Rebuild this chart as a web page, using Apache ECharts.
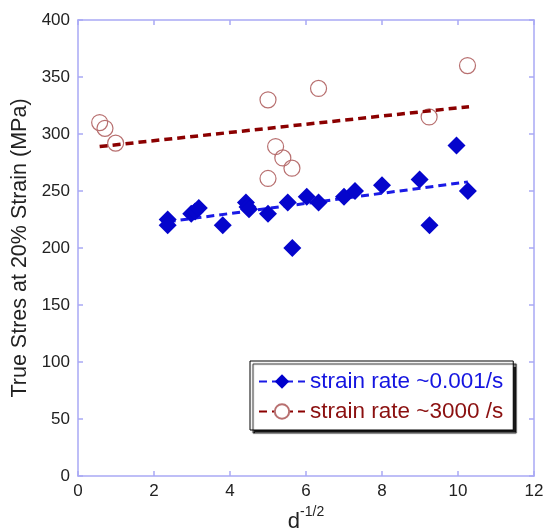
<!DOCTYPE html>
<html><head><meta charset="utf-8">
<script src="https://cdn.jsdelivr.net/npm/echarts@6/dist/echarts.min.js"></script>
<style>html,body{margin:0;padding:0;background:#fff}#c{width:545px;height:528px}</style>
</head><body><div id="c"></div>
<script>
// Low strain rate (~0.001/s) points
const slowX = [2.36, 2.36, 2.98, 3.08, 3.18, 3.81, 4.42, 4.46, 4.5, 5.0, 5.52, 5.64, 6.02, 6.33, 7.0, 7.29, 8.0, 8.99, 9.25, 9.96, 10.26];
const slowY = [225, 220, 230, 232, 235, 220, 240, 236, 234, 230, 240, 200, 245, 240, 245, 250, 255, 260, 220, 290, 250];
// High strain rate (~3000/s) points
const fastX = [0.57, 0.71, 0.99, 5.0, 6.33, 5.2, 5.39, 5.63, 5.0, 9.24, 10.25];
const fastY = [310, 305, 292, 330, 340, 289, 279, 270, 261, 315, 360];
// Fit lines (endpoints)
const slowFitX = [2.36, 10.26];
const slowFitY = [223, 258];
const fastFitX = [0.57, 10.29];
const fastFitY = [289, 324];
const xTicks = [0, 2, 4, 6, 8, 10, 12];
const yTicks = [0, 50, 100, 150, 200, 250, 300, 350, 400];
const names = ['strain rate ~0.001/s', 'strain rate ~3000 /s'];

const zip = (a, b) => a.map((v, i) => [v, b[i]]);
const FONT = 'Liberation Sans, Arial, sans-serif';
const frame = '#a9a9f5';

const chart = echarts.init(document.getElementById('c'), null, {renderer: 'canvas'});
const axisCommon = {
  axisLine: {show: true, onZero: false, lineStyle: {color: frame, width: 1.5}},
  axisTick: {show: true, inside: true, length: 5, lineStyle: {color: frame, width: 1.5}},
  splitLine: {show: false}
};
chart.setOption({
  animation: false,
  backgroundColor: '#fff',
  grid: {left: 78, right: 11, top: 20, bottom: 52, containLabel: false, outerBoundsMode: 'none'},
  xAxis: [
    Object.assign({type: 'value', min: xTicks[0], max: xTicks[xTicks.length - 1], interval: 2, position: 'bottom',
      axisLabel: {color: '#222', fontSize: 17, fontFamily: FONT, margin: 7},
      name: '{d|d}{s|-1/2}', nameLocation: 'middle', nameGap: 26,
      nameTextStyle: {rich: {d: {fontSize: 22, fontFamily: FONT, color: '#222', verticalAlign: 'bottom', lineHeight: 28},
                             s: {fontSize: 14, fontFamily: FONT, color: '#222', verticalAlign: 'top', lineHeight: 12}}}}, axisCommon),
    Object.assign({type: 'value', min: 0, max: 12, interval: 2, position: 'top', axisLabel: {show: false}}, axisCommon)
  ],
  yAxis: [
    Object.assign({type: 'value', min: yTicks[0], max: yTicks[yTicks.length - 1], interval: 50, position: 'left',
      axisLabel: {color: '#222', fontSize: 17, fontFamily: FONT, margin: 8},
      name: 'True Stres at 20% Strain (MPa)', nameLocation: 'middle', nameGap: 38,
      nameTextStyle: {fontSize: 21.5, fontFamily: FONT, color: '#222'}}, axisCommon),
    Object.assign({type: 'value', min: 0, max: 400, interval: 50, position: 'right', axisLabel: {show: false}}, axisCommon)
  ],
  legend: {
    orient: 'vertical', left: 250, top: 361, width: 263,
    padding: [9, 10, 7, 8], itemGap: 7, itemWidth: 46, itemHeight: 18,
    backgroundColor: '#fff', borderColor: '#000', borderWidth: 1,
    shadowColor: 'rgba(0,0,0,0.9)', shadowBlur: 1, shadowOffsetX: 3, shadowOffsetY: 3,
    textStyle: {fontSize: 22.5, fontFamily: FONT},
    data: [
      {name: names[0], textStyle: {color: '#1515e0'}},
      {name: names[1], textStyle: {color: '#8b1010'}}
    ]
  },
  series: [
    {name: names[0], type: 'line', data: zip(slowFitX, slowFitY), symbol: 'diamond', showSymbol: false,
     lineStyle: {color: '#1a1ae6', width: 3, type: [8, 5]}, itemStyle: {color: '#0000cc'}, z: 3},
    {name: names[1], type: 'line', data: zip(fastFitX, fastFitY), symbol: 'emptyCircle', showSymbol: false,
     lineStyle: {color: '#8b0000', width: 3.5, type: [8, 5]}, itemStyle: {color: '#b87070'}, z: 3},
    {name: 'slow pts', type: 'scatter', data: zip(slowX, slowY), symbol: 'diamond', symbolSize: 18,
     itemStyle: {color: '#0505cc', opacity: 1}, z: 4},
    {name: 'fast pts', type: 'scatter', data: zip(fastX, fastY), symbol: 'circle', symbolSize: 16,
     itemStyle: {color: 'rgba(255,255,255,0)', borderColor: '#b87070', borderWidth: 1.2, opacity: 1}, z: 2}
  ]
});
</script></body></html>
